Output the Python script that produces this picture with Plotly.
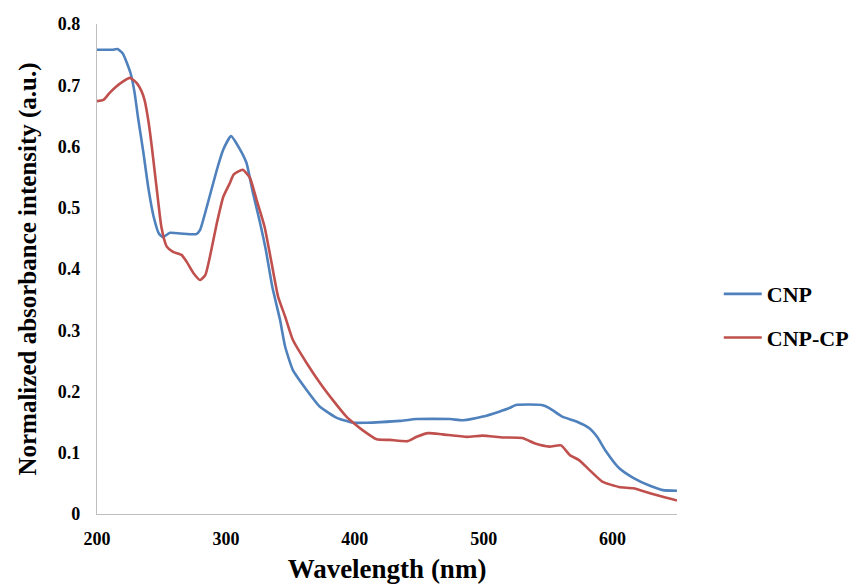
import plotly.graph_objects as go

# CNP (blue)
cnp_x = [200, 205, 212, 216, 220, 226, 229, 232, 236, 240, 244, 248, 251, 256.6, 265, 277, 280, 285,
         293, 298, 304, 311, 316, 321, 326, 331, 336, 342, 346, 352, 362.5, 373, 386, 398.5, 409,
         420, 435, 448, 474, 484, 499.5, 512, 520, 525, 545, 551, 561, 572, 582, 588, 595, 605,
         616, 629, 639, 650]
cnp_y = [0.758, 0.758, 0.758, 0.759, 0.752, 0.72, 0.69, 0.645, 0.59, 0.53, 0.485, 0.458, 0.452, 0.459, 0.458, 0.457, 0.464, 0.50,
         0.562, 0.595, 0.617, 0.595, 0.573, 0.524, 0.48, 0.431, 0.371, 0.317, 0.273, 0.235, 0.203, 0.175, 0.157, 0.149, 0.149,
         0.150, 0.152, 0.155, 0.155, 0.153, 0.159, 0.167, 0.173, 0.178, 0.178, 0.173, 0.159, 0.151, 0.140, 0.126, 0.102, 0.075,
         0.059, 0.046, 0.039, 0.038]

# CNP-CP (red)
cp_x = [200, 205, 210, 215, 220, 225.6, 230.7, 234.6, 237, 240, 242.5, 245, 247.5, 250, 254, 259, 265.6, 269.5,
        274.6, 280, 284, 287.6, 293, 298, 303, 306, 313, 318.6, 323.8, 330, 335, 340.5, 346, 352, 362.5,
        373, 383, 393.5, 400, 406, 417, 427, 441, 448, 457, 468, 487, 499, 515, 530, 540, 551, 560,
        567, 574, 582, 592, 605, 616, 629, 639, 650]
cp_y = [0.674, 0.676, 0.688, 0.698, 0.706, 0.712, 0.704, 0.69, 0.675, 0.64, 0.60, 0.555, 0.51, 0.468, 0.437, 0.428, 0.423, 0.412,
        0.394, 0.382, 0.39, 0.42, 0.475, 0.518, 0.54, 0.554, 0.562, 0.549, 0.513, 0.469, 0.415, 0.355, 0.322, 0.284, 0.247,
        0.214, 0.186, 0.159, 0.147, 0.137, 0.122, 0.121, 0.119, 0.126, 0.132, 0.130, 0.126, 0.128, 0.125, 0.124, 0.115, 0.110, 0.112,
        0.096, 0.088, 0.072, 0.053, 0.044, 0.042, 0.034, 0.028, 0.022]

x_ticks = [200, 300, 400, 500, 600]
y_ticks = [0, 0.1, 0.2, 0.3, 0.4, 0.5, 0.6, 0.7, 0.8]
y_tick_labels = ["0", "0.1", "0.2", "0.3", "0.4", "0.5", "0.6", "0.7", "0.8"]

serif = "Liberation Serif"

fig = go.Figure()
fig.add_trace(go.Scatter(x=cnp_x, y=cnp_y, mode="lines", name="CNP", legendgroup="a",
                         line=dict(color="#4F81BD", width=2.6, shape="spline", smoothing=0.5)))
fig.add_trace(go.Scatter(x=cp_x, y=cp_y, mode="lines", name="CNP-CP", legendgroup="b",
                         line=dict(color="#C0504D", width=2.6, shape="spline", smoothing=0.5)))

fig.update_layout(
    width=859, height=576,
    margin=dict(l=89, r=190, t=16, b=70, autoexpand=False),
    paper_bgcolor="white", plot_bgcolor="white",
    font=dict(family=serif, color="black", size=16),
    legend=dict(x=1.072, y=0.404, xanchor="left", yanchor="middle",
                font=dict(family=serif, size=22, weight="bold"),
                tracegroupgap=12, itemwidth=38, bgcolor="rgba(0,0,0,0)"),
    xaxis=dict(range=[200, 650], tickvals=x_ticks, showgrid=False, zeroline=False,
               showline=True, linecolor="#BFBFBF", linewidth=1.2, ticks="",
               ticklabelstandoff=8,
               tickfont=dict(family=serif, size=18, weight="bold"),
               title=dict(text="Wavelength (nm)", font=dict(family=serif, size=27, weight="bold"), standoff=16)),
    yaxis=dict(range=[0, 0.8], tickvals=y_ticks, ticktext=y_tick_labels, showgrid=False, zeroline=False,
               showline=True, linecolor="#BFBFBF", linewidth=1.2, ticks="",
               ticklabelstandoff=12,
               tickfont=dict(family=serif, size=18, weight="bold"),
               title=dict(text="Normalized absorbance intensity (a.u.)", font=dict(family=serif, size=25, weight="bold"), standoff=14)),
)

fig.write_html("out.html")
